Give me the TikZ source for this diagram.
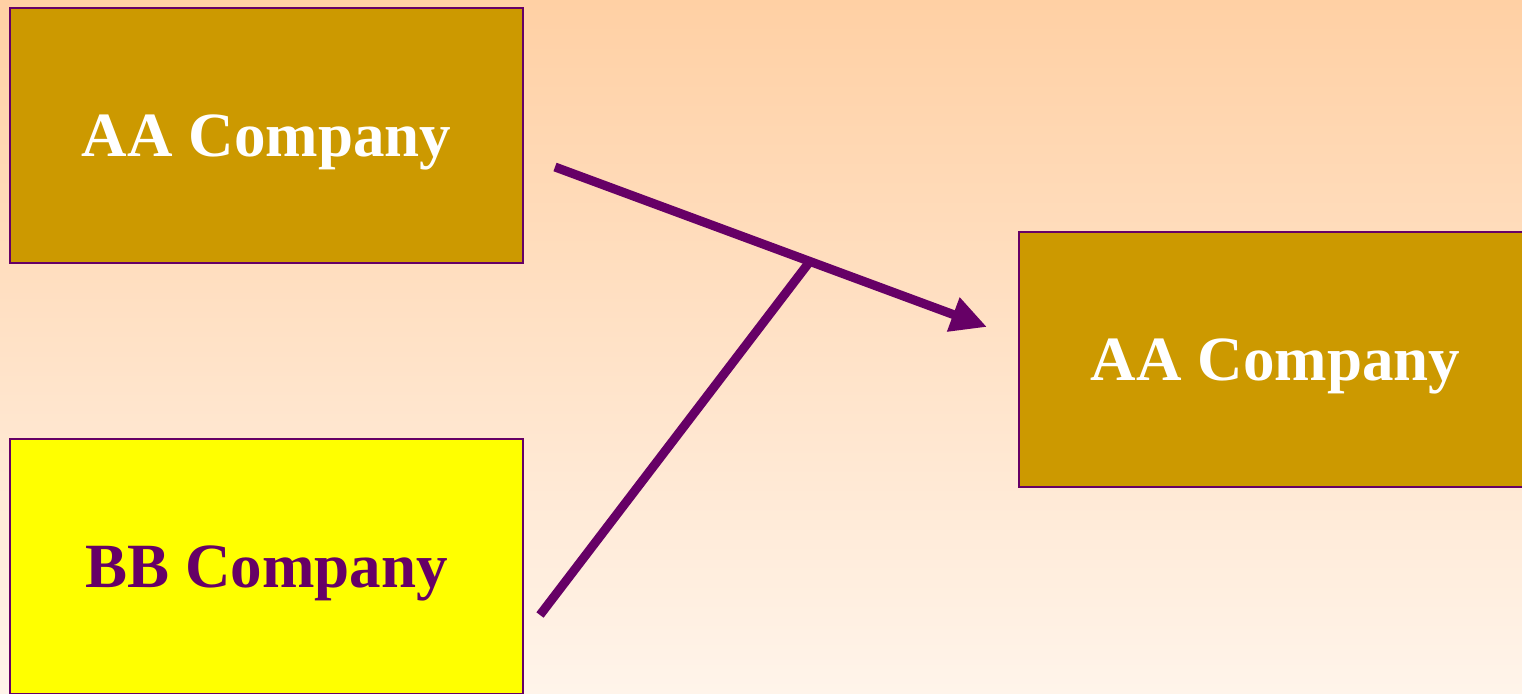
\documentclass[tikz,border=0pt]{standalone}
\usepackage{fontspec}
\setmainfont{Liberation Serif}
\usetikzlibrary{arrows.meta,calc}
\definecolor{plum}{HTML}{660066}
\definecolor{gold}{HTML}{CC9900}
\definecolor{lemon}{HTML}{FFFF00}
\definecolor{peachtop}{HTML}{FFD0A4}
\definecolor{peachbot}{HTML}{FFF4EA}
\tikzset{
  company/.style={draw=plum, line width=2.5pt, minimum width=513pt, minimum height=255pt,
    inner sep=0pt, text depth=0pt, font=\fontsize{63}{70}\selectfont\bfseries},
  goldbox/.style={company, fill=gold, text=white},
  yellowbox/.style={company, fill=lemon, text=plum},
  link/.style={draw=plum, line width=9pt},
}
\begin{document}
\begin{tikzpicture}[x=1pt,y=-1pt]
  \useasboundingbox (0,0) rectangle (1522,693);
  \clip (0,0) rectangle (1522,693);
  \shade[top color=peachtop, bottom color=peachbot] (0,0) rectangle (1522,693);

  \node[goldbox] (aa) at (266.5,135.5) {AA Company};
  \node[yellowbox] (bb) at (266.5,566.5) {BB Company};
  \node[goldbox] (merged) at (1275.5,359.5) {AA Company};

  \coordinate (s1) at (555,167);
  \coordinate (tip) at (987,327);
  \coordinate (s2) at (540,615);
  \coordinate (j) at ($(s1)!0.59!(tip)$);

  \draw[link, -{Triangle[length=36pt,width=34pt]}] (s1) -- (tip);
  \draw[link] (s2) -- (j);
\end{tikzpicture}
\end{document}
